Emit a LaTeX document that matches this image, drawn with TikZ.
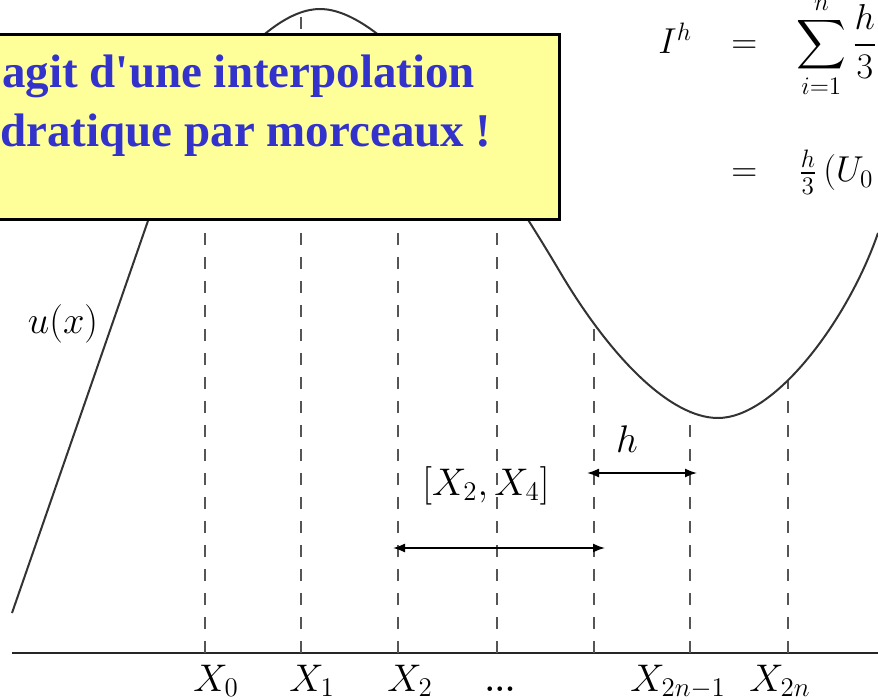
\RequirePackage{fix-cm}
\documentclass[tikz,border=0pt]{standalone}
\usepackage{exscale}
\usepackage{fontspec}
\newfontfamily\boxfont{Liberation Serif}
\usetikzlibrary{arrows.meta}
\definecolor{boxyellow}{HTML}{FFFF99}
\definecolor{boxblue}{HTML}{3333CC}
\definecolor{curvegray}{HTML}{333333}
\definecolor{dashgray}{HTML}{555555}
\begin{document}
\begin{tikzpicture}[x=0.5pt,y=-0.5pt,
  lab/.style={inner sep=0pt, anchor=base, font=\fontsize{19.25}{23}\selectfont},
  frm/.style={inner sep=0pt, anchor=base west, font=\fontsize{18}{22}\selectfont},
  btxt/.style={inner sep=0pt, anchor=base west, text=boxblue, font=\boxfont\bfseries\fontsize{23.5}{28}\selectfont},
  dsh/.style={dashgray, line width=0.7pt, dash pattern=on 6pt off 6pt},
  dimarrow/.style={line width=0.8pt, {Latex[length=6pt,width=4.5pt]}-{Latex[length=6pt,width=4.5pt]}},
  crv/.style={curvegray, line width=1pt},
  axisline/.style={black!85, line width=1pt},
  notebox/.style={draw=black, fill=boxyellow, line width=1.3pt, minimum width=285pt, minimum height=92.5pt, anchor=north west, inner sep=0pt}
]
\useasboundingbox (0,0) rectangle (878,700);
% axis
\coordinate (axL) at (12,653);
\coordinate (axR) at (880,653);
\draw[axisline] (axL) -- (axR);
% ticks on axis and on curve
\foreach \n/\x/\y in {0/205/104, 1/301/12, 2/398/45, 3/497/172, 4/594/325, 5/690/413, 6/788/380}{
  \coordinate (a\n) at (\x,653);
  \coordinate (c\n) at (\x,\y);
  \draw[dsh] (a\n) -- (c\n);
}
% curve u(x)
\draw[crv] (12,613) -- (150,215)
  .. controls (185,114) and (262,9) .. (320,9)
  .. controls (380,9) and (470,120) .. (560,272)
  .. controls (610,356.5) and (670,418) .. (718,418)
  .. controls (775,418) and (848,320) .. (878,233);
\node[lab] (ux) at (63,333) {$u(x)$};
% axis labels
\node[lab] (lx0) at (216,691) {$X_0$};
\node[lab] (lx1) at (312,691) {$X_1$};
\node[lab] (lx2) at (410,691) {$X_2$};
\node[lab] (ldots) at (500,691) {\fontsize{16}{20}\selectfont\bfseries ...};
\node[lab] (lx5) at (678,691) {$X_{2n-1}$};
\node[lab] (lx6) at (780,691) {$X_{2n}$};
% dimension arrows
\coordinate (l1) at (393,548);
\coordinate (l2) at (605,548);
\coordinate (u1) at (587,473);
\coordinate (u2) at (697,473);
\draw[dimarrow] (l1) -- (l2);
\draw[dimarrow] (u1) -- (u2);
\node[lab] (int) at (486,495) {$[X_2,X_4]$};
\node[lab] (hlab) at (627,452) {$h$};
% formula
\node[frm] (Ih) at (658,54) {$I^h$};
\node[frm] (eq1) at (731,54) {$=$};
\node[frm] (sum) at (796,54) {$\displaystyle\sum_{i=1}^{n}\frac{h}{3}$};
\node[frm] (eq2) at (731,182) {$=$};
\node[frm] (rhs2) at (798,182) {$\frac{h}{3}\,(U_0$};
% yellow note box
\node[notebox] (box) at (-12,33) {};
\node[btxt] (t1) at (2,88) {agit d'une interpolation};
\node[btxt] (t2) at (0,147) {dratique par morceaux !};
\end{tikzpicture}
\end{document}
